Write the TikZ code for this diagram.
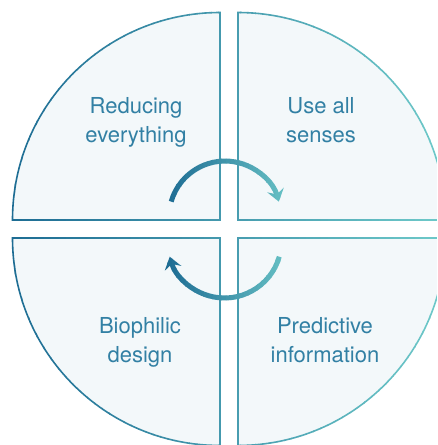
\documentclass[tikz,border=0pt]{standalone}
\usepackage{fontspec}
\setmainfont{TeX Gyre Heros}
\usetikzlibrary{arrows.meta}

\definecolor{tealdark}{RGB}{27,106,146}
\definecolor{teallight}{RGB}{108,199,200}
\definecolor{quadfill}{RGB}{243,248,250}
\definecolor{quadtext}{RGB}{50,128,164}

% the four quarter discs, #1 = options of the path
\newcommand\quadrants[1]{%
  \path[#1] (-9,9) -- (-9,216.5) arc[start angle=90,end angle=180,radius=207.5pt] -- cycle;
  \path[#1] (9,9) -- (216.5,9) arc[start angle=0,end angle=90,radius=207.5pt] -- cycle;
  \path[#1] (-9,-9) -- (-216.5,-9) arc[start angle=180,end angle=270,radius=207.5pt] -- cycle;
  \path[#1] (9,-9) -- (9,-216.5) arc[start angle=270,end angle=360,radius=207.5pt] -- cycle;
}

\begin{document}
\begin{tikzpicture}[x=1pt,y=1pt,
  quad/.style={fill=quadfill},
  outline/.style={line width=1.6pt},
  turn/.style={line width=5pt,-{Stealth[length=12pt,width=17pt,inset=4.5pt]}},
  words/.style={text=quadtext,align=center,anchor=base,font=\fontsize{22}{29}\selectfont}]
  \useasboundingbox (-229,-216) rectangle (208,229);
  \clip (-229,-216) rectangle (208,229);
  % Quadrants
  \quadrants{quad}
  % Outlines, coloured strip by strip
  \foreach \i in {0,...,59}{
    \pgfmathsetmacro\xl{-229+\i*7.2833}
    \pgfmathsetmacro\xr{\xl+7.9}
    \pgfmathtruncatemacro\p{100-\i*1.6949}
    \begin{scope}
      \clip (\xl,-216) rectangle (\xr,229);
      \colorlet{stripcol}{tealdark!\p!teallight}
      \quadrants{outline,draw=stripcol}
    \end{scope}
  }
  % Arrows, coloured strip by strip
  \foreach \i in {0,...,29}{
    \pgfmathsetmacro\xl{-66+\i*4.5}
    \pgfmathsetmacro\xr{\xl+5}
    \pgfmathtruncatemacro\p{100-\i*3.448}
    \begin{scope}
      \clip (\xl,-80) rectangle (\xr,80);
      \colorlet{stripcol}{tealdark!\p!teallight}
      \draw[turn,stripcol] (-57.8,27.4) arc[start angle=164,end angle=16,radius=56pt];
      \draw[turn,stripcol] (50.3,-27.7) arc[start angle=-16,end angle=-164,radius=57pt];
    \end{scope}
  }
  % Labels
  \node[words] (reduce) at (-93,87) {Reducing\\everything};
  \node[words] (senses) at (92,87) {Use all\\senses};
  \node[words] (biophilic) at (-89,-133) {Biophilic\\design};
  \node[words] (predict) at (96,-133) {Predictive\\information};
\end{tikzpicture}
\end{document}
